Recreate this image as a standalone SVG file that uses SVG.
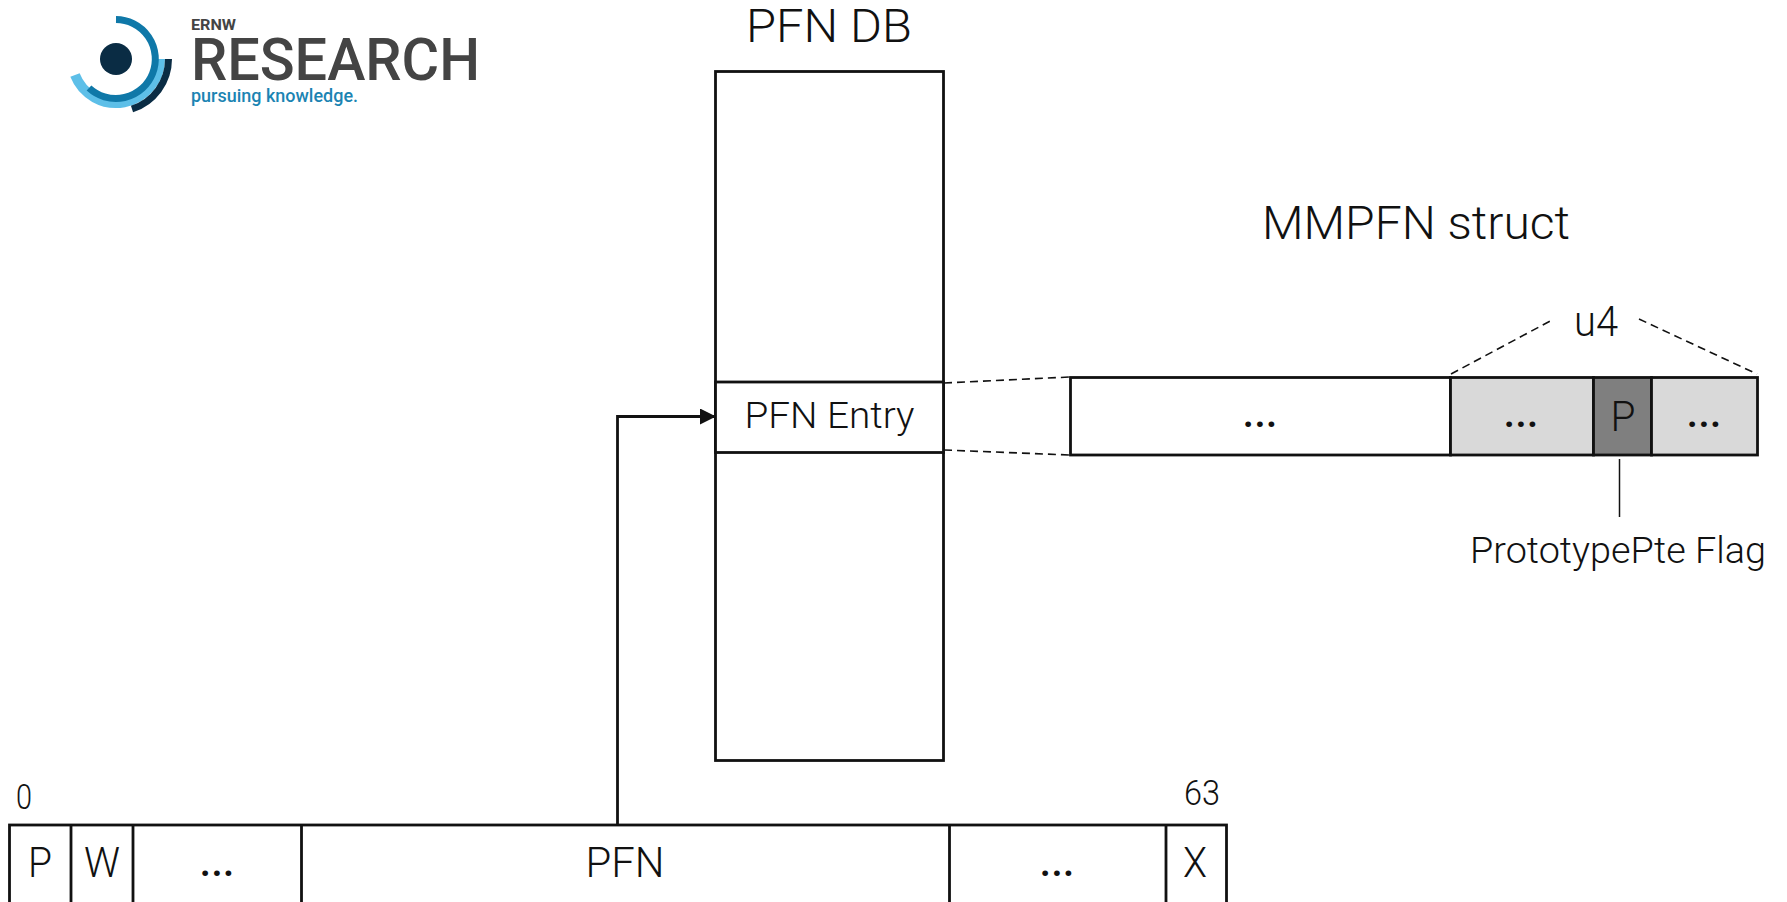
<svg xmlns="http://www.w3.org/2000/svg" width="1787" height="902" viewBox="0 0 1787 902">
<style>
text{font-family:"Roboto","Liberation Sans",sans-serif;fill:#111;text-anchor:middle;font-weight:300}
.box{fill:#fff;stroke:#111;stroke-width:2.8}
.line{fill:none;stroke:#111;stroke-width:2.8}
.dash{fill:none;stroke:#111;stroke-width:1.6;stroke-dasharray:8 5}
.t1{font-size:47px}.t2{font-size:37px}.t3{font-size:42px}.t4{font-size:35px}
.dots{font-size:42px;font-weight:500}
</style>
<defs><marker id="arrow" markerUnits="userSpaceOnUse" markerWidth="16" markerHeight="16" refX="15" refY="8" orient="auto"><path d="M0 0L16 8L0 16Z" fill="#111"/></marker></defs>
<rect width="1787" height="902" fill="#fff"/>
<g id="logo">
<path d="M75 75A44 44 0 0 0 160 59" fill="none" stroke="#5dbfe8" stroke-width="10"/>
<path d="M116 19.500A39.500 39.500 0 1 1 89 88" fill="none" stroke="#0f78a8" stroke-width="7"/>
<path d="M168.500 59A52.500 52.500 0 0 1 132 109" fill="none" stroke="#0a2c44" stroke-width="7"/>
<circle cx="116" cy="59" r="16" fill="#0a2c44"/>
<text x="191" y="30" style="font-size:15px;font-weight:700;fill:#444;text-anchor:start" textLength="45" lengthAdjust="spacingAndGlyphs">ERNW</text>
<text x="191" y="80" style="font-size:60px;fill:#444;text-anchor:start;font-weight:500" textLength="289" lengthAdjust="spacingAndGlyphs">RESEARCH</text>
<text x="191" y="102" style="font-size:18px;fill:#1b84b3;text-anchor:start;font-weight:500" textLength="167" lengthAdjust="spacingAndGlyphs">pursuing knowledge.</text>
</g>
<g id="pfn-db">
<rect class="box" x="715.500" y="71.500" width="228" height="689"/>
<text class="t1" x="829" y="42" textLength="166" lengthAdjust="spacingAndGlyphs">PFN DB</text>
</g>
<g id="pfn-entry">
<rect class="box" x="715.500" y="382" width="228" height="70.500"/>
<text class="t2" x="829.500" y="428" textLength="170" lengthAdjust="spacingAndGlyphs">PFN Entry</text>
</g>
<g id="mmpfn">
<text class="t1" x="1416" y="239" textLength="308" lengthAdjust="spacingAndGlyphs">MMPFN struct</text>
<rect class="box" x="1070.500" y="377.500" width="380" height="77.500"/>
<text class="dots" x="1260" y="427">...</text>
<rect class="box" x="1450.500" y="377.500" width="143" height="77.500" style="fill:#d9d9d9"/>
<text class="dots" x="1521" y="427">...</text>
<rect class="box" x="1593.500" y="377.500" width="58" height="77.500" style="fill:#7f7f7f"/>
<text class="t3" x="1623" y="431" textLength="25" lengthAdjust="spacingAndGlyphs">P</text>
<rect class="box" x="1651.500" y="377.500" width="106" height="77.500" style="fill:#d9d9d9"/>
<text class="dots" x="1704" y="427">...</text>
<text class="t3" x="1596" y="336" textLength="44" lengthAdjust="spacingAndGlyphs">u4</text>
<text class="t2" x="1618" y="563" textLength="296" lengthAdjust="spacingAndGlyphs">PrototypePte Flag</text>
</g>
<g id="pte">
<rect class="box" x="9.500" y="825" width="1217" height="100"/>
<path class="line" d="M71 825V902M133 825V902M301.500 825V902M949.500 825V902M1166 825V902"/>
<text class="t3" x="40" y="877" textLength="24" lengthAdjust="spacingAndGlyphs">P</text>
<text class="t3" x="102" y="877" textLength="36" lengthAdjust="spacingAndGlyphs">W</text>
<text class="dots" x="217" y="876">...</text>
<text class="t3" x="625" y="877" textLength="79" lengthAdjust="spacingAndGlyphs">PFN</text>
<text class="dots" x="1057" y="876">...</text>
<text class="t3" x="1195" y="877" textLength="24" lengthAdjust="spacingAndGlyphs">X</text>
<text class="t4" x="24" y="809" textLength="16" lengthAdjust="spacingAndGlyphs">0</text>
<text class="t4" x="1202" y="805" textLength="36" lengthAdjust="spacingAndGlyphs">63</text>
</g>
<g id="connectors">
<path class="line" d="M617.500 825V416.500H715" marker-end="url(#arrow)"/>
<path class="dash" d="M944 383L1070 377M944 450L1070 455"/>
<path class="dash" d="M1451 374L1554 319M1639 319L1757 374"/>
<path d="M1619.500 459V517" fill="none" stroke="#111" stroke-width="1.500"/>
</g>
</svg>
